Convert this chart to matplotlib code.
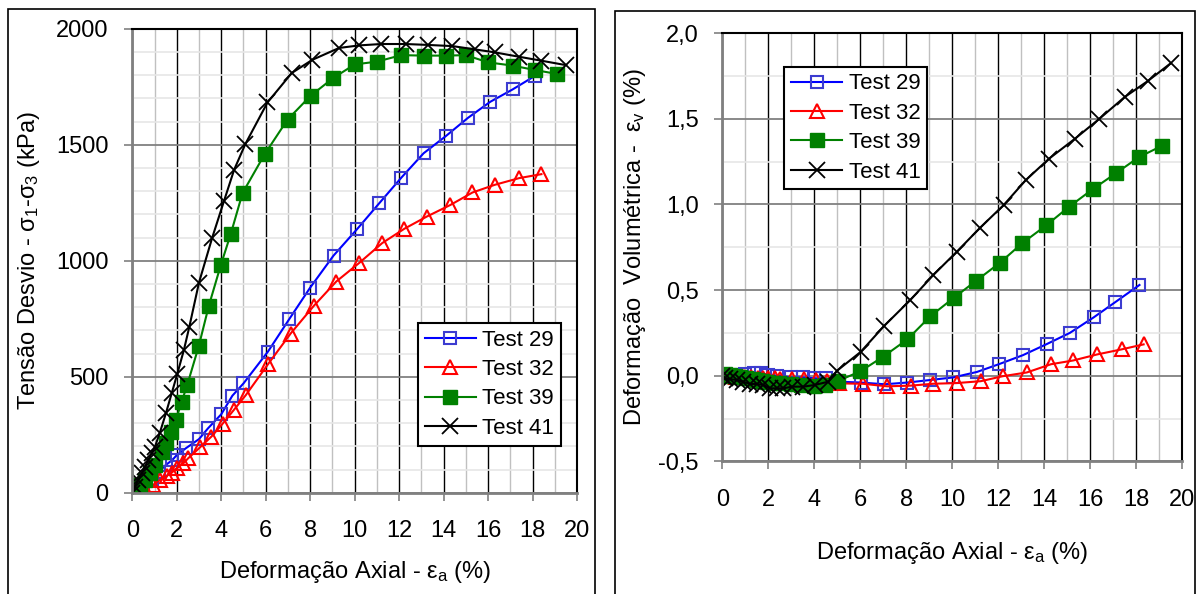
import matplotlib
matplotlib.use("Agg")
import matplotlib.pyplot as plt
from matplotlib.patches import Rectangle
from matplotlib.ticker import MultipleLocator, FuncFormatter

plt.rcParams['font.family'] = ['Liberation Sans', 'DejaVu Sans']
plt.rcParams['mathtext.fontset'] = 'custom'
plt.rcParams['mathtext.rm'] = 'Liberation Sans'
plt.rcParams['mathtext.it'] = 'Liberation Sans'

# ---- deviator stress vs axial strain (left) ----
ea29 = [0, 0.5, 0.9, 1.2, 1.5, 1.8, 2.0, 2.4, 3.0, 3.4, 4.0, 4.5, 5.0, 6.1, 7.05, 8.0,
        9.05, 10.1, 11.1, 12.1, 13.1, 14.1, 15.1, 16.1, 17.1, 18.1]
q29 = [0, 26, 55, 90, 119, 141, 162, 191, 231, 277, 338, 418, 471, 608, 747, 884,
       1022, 1135, 1247, 1358, 1463, 1537, 1616, 1685, 1738, 1796]

ea32 = [0, 0.57, 0.94, 1.24, 1.54, 1.77, 1.99, 2.29, 2.51, 3.04, 3.56, 4.06, 4.57, 5.1,
        6.12, 7.12, 8.16, 9.17, 10.2, 11.24, 12.24, 13.24, 14.3, 15.3, 16.3, 17.4, 18.4]
q32 = [0, 14, 33, 55, 72, 86, 105, 126, 148, 195, 242, 297, 357, 420,
       556, 686, 805, 910, 990, 1076, 1138, 1190, 1240, 1294, 1327, 1356, 1373]

ea39 = [0, 0.12, 0.34, 0.57, 0.79, 1.02, 1.32, 1.51, 1.74, 1.96, 2.22, 2.47, 2.99, 3.44,
        3.98, 4.43, 4.96, 5.96, 6.98, 8.02, 9.03, 10.0, 11.0, 12.1, 13.1, 14.1, 15.0,
        16.0, 17.1, 18.1, 19.1]
q39 = [0, 14, 33, 55, 83, 119, 177, 216, 263, 313, 392, 464, 632, 805,
       981, 1116, 1292, 1460, 1608, 1711, 1787, 1846, 1858, 1886, 1884, 1884, 1886,
       1855, 1841, 1822, 1805]

ea41 = [0, 0.12, 0.27, 0.42, 0.57, 0.72, 0.87, 1.02, 1.24, 1.51, 1.77, 2.02, 2.32, 2.56,
        3.0, 3.59, 4.13, 4.58, 5.09, 6.08, 7.17, 8.1, 9.3, 10.2, 11.2, 12.3, 13.3, 14.4,
        15.4, 16.3, 17.4, 18.4, 19.5]
q41 = [0, 26, 55, 83, 112, 141, 170, 198, 259, 342, 428, 511, 615, 713,
       906, 1098, 1259, 1392, 1504, 1682, 1809, 1866, 1917, 1928, 1934, 1934, 1930, 1925,
       1911, 1898, 1879, 1862, 1843]

# ---- volumetric strain vs axial strain (right) ----
ev_ea29 = [0, 0.3, 0.6, 1.0, 1.4, 1.7, 2.0, 2.4, 3.0, 3.5, 4.0, 4.5, 5.05, 6.05, 7.05,
           8.05, 9.05, 10.05, 11.08, 12.05, 13.08, 14.12, 15.12, 16.15, 17.1, 18.15]
ev29 = [0, 0, 0.005, 0.01, 0.015, 0.015, 0.005, 0.0, -0.01, -0.01, -0.015, -0.015, -0.035,
        -0.04, -0.05, -0.04, -0.025, -0.01, 0.022, 0.068, 0.12, 0.185, 0.25, 0.34, 0.43, 0.53]

ev_ea32 = [0, 0.3, 0.6, 0.94, 1.24, 1.54, 1.77, 1.99, 2.29, 2.51, 3.04, 3.56, 4.06, 4.57,
           5.06, 6.1, 7.17, 8.2, 9.18, 10.2, 11.25, 12.2, 13.25, 14.3, 15.27, 16.3, 17.38, 18.33]
ev32 = [0, 0, -0.005, -0.01, -0.01, -0.012, -0.012, -0.015, -0.015, -0.02, -0.02, -0.02,
        -0.025, -0.03, -0.045, -0.047, -0.062, -0.058, -0.047, -0.043, -0.032, -0.003,
        0.019, 0.067, 0.089, 0.124, 0.154, 0.183]

ev_ea39 = [0, 0.12, 0.34, 0.57, 0.79, 1.02, 1.32, 1.51, 1.74, 1.96, 2.22, 2.47, 2.99, 3.44,
           3.98, 4.47, 5.04, 6.0, 7.0, 8.05, 9.05, 10.08, 11.05, 12.08, 13.05, 14.1, 15.08,
           16.13, 17.13, 18.13, 19.13]
ev39 = [0, 0.01, 0.005, 0, -0.01, -0.015, -0.02, -0.025, -0.03, -0.035, -0.04, -0.045,
        -0.05, -0.055, -0.058, -0.055, -0.03, 0.025, 0.111, 0.212, 0.347, 0.456, 0.555,
        0.66, 0.774, 0.879, 0.986, 1.091, 1.183, 1.277, 1.343]

ev_ea41 = [0, 0.12, 0.33, 0.62, 0.91, 1.2, 1.49, 1.78, 2.07, 2.36, 2.65, 3.03, 3.53, 4.03,
           4.61, 5.0, 6.02, 7.05, 8.18, 9.18, 10.2, 11.2, 12.25, 13.2, 14.2, 15.35, 16.4,
           17.5, 18.5, 19.5]
ev41 = [0, -0.016, -0.02, -0.025, -0.035, -0.048, -0.048, -0.054, -0.074, -0.074, -0.074,
        -0.064, -0.064, -0.054, -0.035, 0.03, 0.139, 0.292, 0.442, 0.588, 0.724, 0.862,
        0.998, 1.142, 1.266, 1.385, 1.50, 1.627, 1.72, 1.824]

labels = ['Test 29', 'Test 32', 'Test 39', 'Test 41']

styles = [
    dict(color='#0000ff', marker='s', mfc='none', mec='#3c3cd0', ms=9, mew=1.5),
    dict(color='#ff0000', marker='^', mfc='none', mec='#ff0000', ms=10, mew=1.5),
    dict(color='#008000', marker='s', mfc='#008000', mec='#008000', ms=9.5),
    dict(color='#000000', marker='x', mfc='none', mec='#000000', ms=11, mew=1.3),
]

FS = 17
LFS = 16

fig = plt.figure(figsize=(11.98, 5.94), dpi=100)

# panel frames
fig.add_artist(Rectangle((8 / 1198, -0.05), 587 / 1198, 1.05 - 9 / 594,
                         transform=fig.transFigure, fill=False, lw=1.2, ec='black'))
fig.add_artist(Rectangle((615 / 1198, -0.05), 580 / 1198, 1.05 - 11 / 594,
                         transform=fig.transFigure, fill=False, lw=1.2, ec='black'))


def style_axes(ax, ymajor, yminor):
    ax.set_xlim(0, 20)
    ax.xaxis.set_major_locator(MultipleLocator(2))
    ax.xaxis.set_minor_locator(MultipleLocator(1))
    ax.yaxis.set_major_locator(MultipleLocator(ymajor))
    ax.yaxis.set_minor_locator(MultipleLocator(yminor))
    ax.grid(which='minor', axis='x', color='#c0c0c0', lw=1.0)
    ax.grid(which='major', axis='x', color='black', lw=1.0)
    ax.grid(which='minor', axis='y', color='#e6e6e6', lw=1.2)
    ax.grid(which='major', axis='y', color='#808080', lw=1.3)
    ax.set_axisbelow(True)
    for s in ['left', 'bottom']:
        ax.spines[s].set_color('#808080')
        ax.spines[s].set_linewidth(2)
    for s in ['top', 'right']:
        ax.spines[s].set_color('black')
        ax.spines[s].set_linewidth(1.5)
    ax.tick_params(which='major', direction='out', length=6, width=1.2, color='#808080',
                   labelsize=FS)
    ax.tick_params(axis='x', which='major', pad=14)
    ax.tick_params(axis='y', which='major', pad=11)
    ax.tick_params(which='minor', length=0)


def add_legend(ax, loc, anchor):
    leg = ax.legend(loc=loc, bbox_to_anchor=anchor, fontsize=LFS,
                    frameon=True, fancybox=False, framealpha=1, edgecolor='black',
                    handlelength=2.3, labelspacing=0.38, borderpad=0.3,
                    handletextpad=0.3, borderaxespad=0)
    leg.get_frame().set_linewidth(1.5)
    return leg


# left
ax1 = fig.add_axes([132.3 / 1198, 1 - 492.7 / 594, 444.7 / 1198, 464 / 594])
for x, y, lab, st in zip([ea29, ea32, ea39, ea41], [q29, q32, q39, q41], labels, styles):
    ax1.plot(x, y, lw=1.5, label=lab, **st)
ax1.set_ylim(0, 2000)
style_axes(ax1, 500, 100)
ax1.set_xlabel(r'Deformação Axial - $\mathregular{\epsilon_a}$ (%)', fontsize=FS, labelpad=12)
ax1.set_ylabel(r'Tensão Desvio - $\mathregular{\sigma_1}$-$\mathregular{\sigma_3}$ (kPa)',
               fontsize=FS, labelpad=10)
add_legend(ax1, 'upper right', (0.964, 0.366))

# right
ax2 = fig.add_axes([722.3 / 1198, 1 - 461.3 / 594, 459.7 / 1198, 428 / 594])
for x, y, lab, st in zip([ev_ea29, ev_ea32, ev_ea39, ev_ea41], [ev29, ev32, ev39, ev41],
                         labels, styles):
    ax2.plot(x, y, lw=1.5, label=lab, **st)
ax2.set_ylim(-0.5, 2.0)
style_axes(ax2, 0.5, 0.25)
ax2.yaxis.set_major_formatter(FuncFormatter(lambda v, p: ('%.1f' % v).replace('.', ',')))
ax2.set_xlabel(r'Deformação Axial - $\mathregular{\epsilon_a}$ (%)', fontsize=FS, labelpad=21)
ax2.set_ylabel(r'Deformação  Volumétrica -  $\mathregular{\epsilon_v}$ (%)', fontsize=FS,
               labelpad=7)
add_legend(ax2, 'upper left', (0.135, 0.922))

fig.savefig('out.png', dpi=100)
